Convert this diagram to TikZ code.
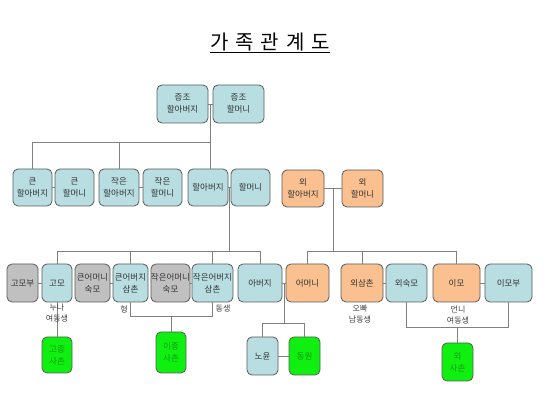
\documentclass[tikz,border=0pt]{standalone}
\usepackage{fontspec}
\setmainfont{Noto Sans CJK KR}
\usetikzlibrary{calc}
\definecolor{bx}{HTML}{B8DEE2}
\definecolor{og}{HTML}{FAC090}
\definecolor{gy}{HTML}{C0C0C0}
\definecolor{gr}{HTML}{10F010}
\definecolor{grt}{HTML}{109A10}
\definecolor{edge}{HTML}{5A5A5A}
\definecolor{ln}{HTML}{808080}
\tikzset{
  box/.style={draw=edge, line width=0.8pt, rounded corners=5pt, align=center, inner sep=0pt,
    font=\fontsize{8.5}{12}\selectfont, text=black!80},
  bl/.style={box, fill=bx},
  orr/.style={box, fill=og},
  gry/.style={box, fill=gy},
  grn/.style={box, fill=gr, text=grt},
  conn/.style={draw=ln, line width=0.9pt},
  lab/.style={align=center, inner sep=0pt, font=\fontsize{8}{11}\selectfont, text=black!75},
}
\newcommand{\bxat}[7]{\node[#1, minimum width={#4-#3}, minimum height={#6-#5}] (#2) at ({(#3+#4)/2},{(#5+#6)/2}) {#7};}
\newcommand{\tsp}{\hspace{7pt}}
\begin{document}
\begin{tikzpicture}[x=1pt,y=-1pt]
\useasboundingbox (0,0) rectangle (550,403);
\node[inner sep=0pt, font=\fontsize{20}{24}\selectfont] (title) at (270,43) {\underline{가\tsp 족\tsp 관\tsp 계\tsp 도}};

% top
\bxat{bl}{g1}{157}{208}{85}{123}{증조\\할아버지}
\bxat{bl}{g2}{213}{264}{85}{123}{증조\\할머니}
% row 2
\bxat{bl}{a1}{13}{52}{169}{206}{큰\\할아버지}
\bxat{bl}{a2}{55}{94}{169}{206}{큰\\할머니}
\bxat{bl}{a3}{99}{139}{169}{206}{작은\\할아버지}
\bxat{bl}{a4}{143}{182}{169}{206}{작은\\할머니}
\bxat{bl}{a5}{188}{228}{169}{206}{할아버지}
\bxat{bl}{a6}{231}{270}{169}{206}{할머니}
\bxat{orr}{a7}{282}{324}{170}{207}{외\\할아버지}
\bxat{orr}{a8}{342}{383}{170}{207}{외\\할머니}
% row 3
\bxat{gry}{b1}{7}{38}{264}{302}{고모부}
\bxat{bl}{b2}{42}{72}{264}{302}{고모}
\bxat{gry}{b3}{75}{110}{264}{302}{큰어머니\\숙모}
\bxat{bl}{b4}{113}{148}{264}{302}{큰어버지\\삼촌}
\bxat{gry}{b5}{153}{188}{264}{302}{작은어머니\\숙모}
\bxat{bl}{b6}{192}{233}{264}{302}{작은어버지\\삼촌}
\bxat{bl}{b7}{238}{282}{264}{302}{아버지}
\bxat{orr}{b8}{286}{329}{264}{302}{어머니}
\bxat{orr}{b9}{341}{383}{264}{302}{외삼촌}
\bxat{bl}{b10}{386}{427}{264}{302}{외숙모}
\bxat{orr}{b11}{433}{480}{264}{302}{이모}
\bxat{bl}{b12}{485}{532}{264}{302}{이모부}
% row 4
\bxat{grn}{c1}{42}{72}{337}{373}{고종\\사촌}
\bxat{grn}{c2}{156}{186}{332}{373}{이종\\사촌}
\bxat{bl}{c3}{247}{278}{337}{375}{노윤}
\bxat{grn}{c4}{289}{320}{337}{375}{동원}
\bxat{grn}{c5}{442}{473}{343}{381}{외\\사촌}

% junction coordinates
\coordinate (jg) at ($(g1.east)!0.5!(g2.west)$);
\coordinate (ja) at ($(a5.east)!0.5!(a6.west)$);
\coordinate (jo) at ($(a7.east)!0.5!(a8.west)$);
\coordinate (jp) at ($(b7.east)!0.5!(b8.west)$);
\coordinate (h1) at (0,142);
\coordinate (h2) at (0,251);
\coordinate (h3) at (0,323);
\coordinate (h4) at (0,316);
\coordinate (h5) at (0,327);

% spouse links
\draw[conn] (g1) -- (g2);
\draw[conn] (a1) -- (a2);
\draw[conn] (a3) -- (a4);
\draw[conn] (a5) -- (a6);
\draw[conn] (a7) -- (a8);
\draw[conn] (b1) -- (b2);
\draw[conn] (b3) -- (b4);
\draw[conn] (b5) -- (b6);
\draw[conn] (b7) -- (b8);
\draw[conn] (b9) -- (b10);
\draw[conn] (b11) -- (b12);
\draw[conn] (c3) -- (c4);

% great-grandparents to grandparents
\draw[conn] (jg) -- (jg |- a5.north);
\draw[conn] (jg |- h1) -- (a1.north |- h1) -- (a1.north);
\draw[conn] (a3.north |- h1) -- (a3.north);

% grandparents to parents' generation
\draw[conn] (ja) -- (ja |- h2);
\draw[conn] (b2.north |- h2) -- (b7.north |- h2);
\draw[conn] (b2.north |- h2) -- (b2.north);
\draw[conn] (b4.north |- h2) -- (b4.north);
\draw[conn] (b6.north |- h2) -- (b6.north);
\draw[conn] (b7.north |- h2) -- (b7.north);

% maternal side
\draw[conn] (jo) -- (jo |- h2);
\draw[conn] (b8.north |- h2) -- (b11.north |- h2);
\draw[conn] (b8.north |- h2) -- (b8.north);
\draw[conn] (b9.north |- h2) -- (b9.north);
\draw[conn] (b11.north |- h2) -- (b11.north);

% children
\draw[conn] (jp) -- (jp |- h3);
\draw[conn] (c3.north) -- (c3.north |- h3) -- (c4.north |- h3) -- (c4.north);
\draw[conn] (b2.south) -- (c1.north);
\draw[conn] (b4.south) -- (b4.south |- h4) -- (b6.south |- h4) -- (b6.south);
\draw[conn] (c2.north |- h4) -- (c2.north);
\draw[conn] (b10.south) -- (b10.south |- h5) -- (b12.south |- h5) -- (b12.south);
\draw[conn] (c5.north |- h5) -- (c5.north);

% labels
\node[lab] (l1) at (57,313) {누나\\여동생};
\node[lab] (l2) at (124,309) {형};
\node[lab] (l3) at (223,309) {동생};
\node[lab] (l4) at (360,314) {오빠\\남동생};
\node[lab] (l5) at (458,315) {언니\\여동생};
\end{tikzpicture}
\end{document}
